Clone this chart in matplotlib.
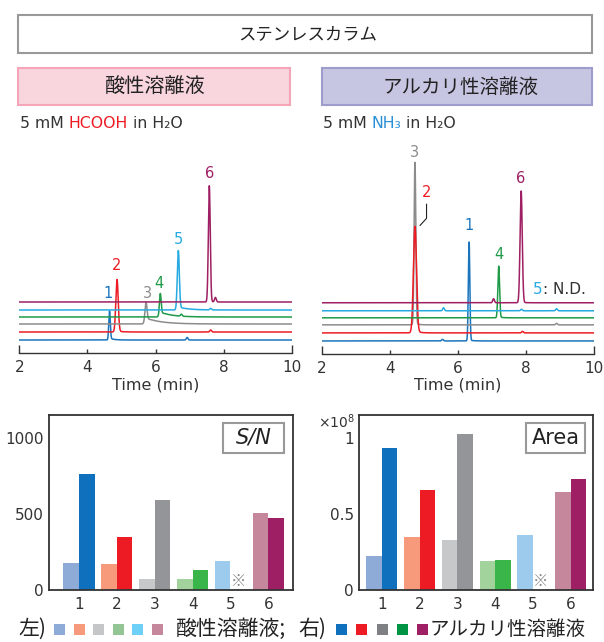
import numpy as np
import matplotlib
matplotlib.use('Agg')
import matplotlib.pyplot as plt
from matplotlib.patches import Rectangle
from matplotlib.transforms import blended_transform_factory

W, H = 604, 642
JP = ['Noto Sans CJK JP', 'DejaVu Sans']
plt.rcParams['font.family'] = ['DejaVu Sans', 'Noto Sans CJK JP']
DARK = '#333333'

# ---- chromatogram peaks (time in min, height in arbitrary units) ----
peak_names = ['1', '2', '3', '4', '5', '6']
trace_colors = ['#1c75bc', '#ed1c24', '#8c8c8c', '#1f9b48', '#27aae1', '#9e1f63']

acid_rt = [4.65, 4.87, 5.72, 6.14, 6.67, 7.58]
acid_height = [28, 52, 19, 21, 58, 116]
acid_width = [0.022, 0.035, 0.03, 0.025, 0.03, 0.028]
acid_tail_h = [2, 1, 6, 5, 3, 0.5]
acid_tail_tau = [0.12, 0.15, 0.45, 0.35, 0.3, 0.1]
acid_minor = [(0, 6.93, 2.5), (1, 7.62, 2), (3, 6.76, 2), (4, 7.62, 1.5), (5, 7.76, 4.5)]

alk_rt = [6.33, 4.74, 4.74, 7.20, np.nan, 7.86]
alk_height = [98, 105, 161, 51, 0, 111]
alk_width = [0.022, 0.045, 0.025, 0.025, 0.03, 0.032]
alk_tail_h = [1, 2, 1.5, 1, 0, 0.5]
alk_tail_tau = [0.1, 0.12, 0.1, 0.1, 0.1, 0.1]
alk_minor = [(5, 7.05, 4), (4, 5.58, 3), (4, 8.9, 2), (0, 5.55, 1.5),
             (2, 8.9, 1.5), (1, 7.9, 1.5), (4, 7.87, 1.5)]

# ---- bar data ----
compounds = [1, 2, 3, 4, 5, 6]
sn_acid = [177, 170, 72, 72, 191, 507]
sn_alk = [763, 348, 592, 132, np.nan, 474]
area_acid = [0.224, 0.349, 0.330, 0.191, 0.363, 0.646]   # x10^8
area_alk = [0.934, 0.659, 1.028, 0.198, np.nan, 0.732]   # x10^8

light_colors = ['#8eabd8', '#f69a7b', '#c7c8ca', '#a2d39c', '#9ccbee', '#c4879c']
dark_colors = ['#0f71bd', '#ed1c24', '#939598', '#39b54a', '#ffffff', '#9e1f63']
legend_light = ['#8eabd8', '#f69a7b', '#c5c6c8', '#94c595', '#6dd0f7', '#c4879c']
legend_dark = ['#0f71bd', '#ed1c24', '#7f8083', '#009444', '#9e1f63']

offsets = [13, 21, 29, 36, 43, 51]

fig = plt.figure(figsize=(W / 100, H / 100), dpi=100)
renderer = fig.canvas.get_renderer()


def fx(px):
    return px / W


def fy(py):
    return 1 - py / H


def fig_box(x0, y0, x1, y1, fc, ec, lw=1.5):
    fig.patches.append(Rectangle((fx(x0), fy(y1)), (x1 - x0) / W, (y1 - y0) / H,
                                 transform=fig.transFigure, fc=fc, ec=ec, lw=lw))


def chain(x, y, parts, **kw):
    # parts: (text, color, gap after in px)
    for s, c, gap in parts:
        t = fig.text(fx(x), fy(y), s, color=c, **kw)
        x += t.get_window_extent(renderer).width + gap
    return x


def peak(t, rt, h, w, th, tau):
    y = h * np.exp(-0.5 * ((t - rt) / w) ** 2)
    step = 1 / (1 + np.exp(-(t - rt) / w))
    y += th * step * np.exp(-np.clip(t - rt, 0, None) / tau)
    return y


# ---- header ----
fig_box(18, 15, 592, 53, 'white', '#999999')
fig.text(fx(308), fy(34), 'ステンレスカラム', ha='center', va='center',
         fontsize=12.5, family=JP, color='#222222')
fig_box(18, 68, 290, 105, '#f9d5de', '#f4a6b8')
fig.text(fx(155.5), fy(87), '酸性溶離液', ha='center', va='center',
         fontsize=14.5, family=JP, color='#222222')
fig_box(322, 68, 592, 105, '#c6c6e3', '#9d9dcc')
fig.text(fx(460.5), fy(87), 'アルカリ性溶離液', ha='center', va='center',
         fontsize=14, family=JP, color='#222222')

chain(20, 127.5, [('5 mM', DARK, 5), ('HCOOH', '#ed1c24', 5), ('in H₂O', DARK, 0)],
      fontsize=11.3, va='baseline')
chain(323, 127.5, [('5 mM', DARK, 5), ('NH₃', '#2b8fd8', 5), ('in H₂O', DARK, 0)],
      fontsize=11.3, va='baseline')

# ---- chromatograms ----
t = np.linspace(2, 10, 3000)


def draw_chrom(ax, rt, height, width, tail_h, tail_tau, minor, order):
    ys = []
    for i in range(6):
        y = np.full_like(t, offsets[i], dtype=float)
        if not np.isnan(rt[i]):
            y += peak(t, rt[i], height[i], width[i], tail_h[i], tail_tau[i])
        ys.append(y)
    for i, rt_m, h_m in minor:
        ys[i] += h_m * np.exp(-0.5 * ((t - rt_m) / 0.025) ** 2)
    for i in order:
        ax.plot(t, ys[i], color=trace_colors[i], lw=1.1, zorder=2 + order.index(i))
    ax.set_xlim(2, 10)
    ax.set_ylim(0, 213)
    for s in ['left', 'right', 'top']:
        ax.spines[s].set_visible(False)
    ax.spines['bottom'].set_color(DARK)
    ax.spines['bottom'].set_linewidth(1.0)
    ax.set_yticks([])
    ax.set_xticks([2, 10], ['2', '10'])
    ax.set_xticks([4, 6, 8], ['4', '6', '8'], minor=True)
    ax.tick_params(axis='x', which='major', direction='in', length=6, width=1,
                   color=DARK, labelsize=11, labelcolor=DARK, pad=5)
    ax.tick_params(axis='x', which='minor', direction='in', length=3, width=1,
                   color=DARK, labelsize=11, labelcolor=DARK, pad=5)
    ax.patch.set_alpha(0)


ax_l = fig.add_axes([fx(19.3), fy(353), (291.7 - 19.3) / W, (353 - 140) / H])
draw_chrom(ax_l, acid_rt, acid_height, acid_width, acid_tail_h, acid_tail_tau,
           acid_minor, [0, 1, 2, 3, 4, 5])
label_dx = [-0.03, 0, 0.04, -0.03, 0, 0]
label_dy = [18, 14, 12, 12, 13, 12]
for i in range(6):
    ax_l.text(acid_rt[i] + label_dx[i], offsets[i] + acid_height[i] + label_dy[i],
              peak_names[i], color=trace_colors[i], fontsize=10.5,
              ha='center', va='center')

ax_r = fig.add_axes([fx(321.7), fy(354), (594 - 321.7) / W, (354 - 140) / H])
draw_chrom(ax_r, alk_rt, alk_height, alk_width, alk_tail_h, alk_tail_tau,
           alk_minor, [0, 2, 1, 3, 4, 5])
alk_dy = [17, 0, 11, 12, 0, 13]
for i in [0, 2, 3, 5]:
    ax_r.text(alk_rt[i] - (0.03 if i == 5 else 0), offsets[i] + alk_height[i] + alk_dy[i],
              peak_names[i], color=trace_colors[i], fontsize=10.5,
              ha='center', va='center')
ax_r.text(5.08, 161, peak_names[1], color=trace_colors[1], fontsize=10.5,
          ha='center', va='center')
ax_r.plot([5.08, 5.08, 4.89], [149, 135, 128], color='#222222', lw=0.8)

chain(533, 289, [('5', trace_colors[4], 0), (': N.D.', DARK, 0)],
      fontsize=11, va='center')

fig.text(fx(155.5), fy(385), 'Time (min)', ha='center', va='center',
         fontsize=11.5, color=DARK)
fig.text(fx(458), fy(385), 'Time (min)', ha='center', va='center',
         fontsize=11.5, color=DARK)

# ---- bar charts ----
x = np.array(compounds)
bw = 0.41


def draw_bars(ax, acid, alk, ylim, ticks, ticklabels, xlim, label, italic):
    ax.bar(x - bw / 2, acid, bw, color=light_colors, zorder=2)
    ax.bar(x + bw / 2, alk, bw, color=dark_colors, zorder=2)
    ax.set_xlim(*xlim)
    ax.set_ylim(*ylim)
    ax.set_xticks(x, [str(c) for c in compounds])
    ax.set_yticks(ticks, ticklabels)
    ax.tick_params(axis='x', length=0, labelsize=11, labelcolor=DARK, pad=5)
    ax.tick_params(axis='y', length=0, labelsize=11, labelcolor=DARK, pad=4)
    for s in ax.spines.values():
        s.set_color(DARK)
        s.set_linewidth(1.3)
    trans = blended_transform_factory(ax.transData, ax.transAxes)
    ax.text(5 + bw / 2, 0.05, '※', transform=trans, ha='center', va='center',
            fontsize=11, color='#888888', family=JP)
    ax.add_patch(Rectangle((0.713, 0.782), 0.252, 0.173, transform=ax.transAxes,
                           fc='white', ec='#999999', lw=1.5, zorder=3))
    ax.text(0.839, 0.869, label, transform=ax.transAxes, ha='center', va='center',
            fontsize=15, color='#222222', style='italic' if italic else 'normal',
            zorder=4)


axb_l = fig.add_axes([fx(49.3), fy(590), (292.7 - 49.3) / W, 175 / H])
draw_bars(axb_l, sn_acid, sn_alk, (0, 1150), [0, 500, 1000], ['0', '500', '1000'],
          (0.2155, 6.644), 'S/N', True)

axb_r = fig.add_axes([fx(359.3), fy(590), (593.3 - 359.3) / W, 175 / H])
draw_bars(axb_r, area_acid, area_alk, (0, 1.153), [0, 0.5, 1], ['0', '0.5', '1'],
          (0.407, 6.598), 'Area', False)
fig.text(fx(336), fy(422), '×10$^8$', ha='center', va='center', fontsize=10,
         color=DARK)

# ---- legend ----
ly = 629
sq = 11
fig.text(fx(18), fy(ly), '左)', fontsize=15, family=JP, va='center', color='#222222')
for i, c in enumerate(legend_light):
    x0 = 54 + i * 19.6
    fig_box(x0, ly - sq / 2, x0 + sq, ly + sq / 2, c, 'none', 0)
fig.text(fx(176), fy(ly), '酸性溶離液;', fontsize=15, family=JP, va='center',
         color='#222222')
fig.text(fx(298), fy(ly), '右)', fontsize=15, family=JP, va='center', color='#222222')
for i, c in enumerate(legend_dark):
    x0 = 336 + i * 20.3
    fig_box(x0, ly - sq / 2, x0 + sq, ly + sq / 2, c, 'none', 0)
fig.text(fx(430), fy(ly), 'アルカリ性溶離液', fontsize=14, family=JP, va='center',
         color='#222222')

fig.savefig('out.png', dpi=100)
